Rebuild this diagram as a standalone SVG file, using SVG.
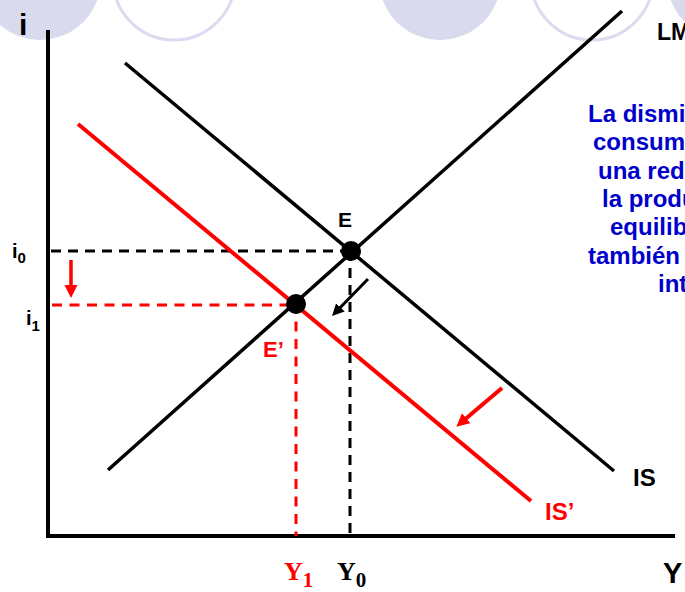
<svg xmlns="http://www.w3.org/2000/svg" width="685" height="592" viewBox="0 0 685 592">
<defs>
<style>
.bgf{fill:#dadaee;stroke:none}
.bgo{fill:none;stroke:#dcdcf0;stroke-width:3}
.ax{stroke:#000;stroke-width:4;fill:none}
.blk{stroke:#000;stroke-width:3.5;fill:none}
.red{stroke:#ff0000;stroke-width:4;fill:none}
.dk{stroke:#000;stroke-width:3;stroke-dasharray:10 7;fill:none}
.dr{stroke:#ff0000;stroke-width:3;stroke-dasharray:10 7.5;fill:none}
.lbl{font-family:"Liberation Sans",Arial,sans-serif;font-weight:bold}
.ser{font-family:"Liberation Serif","Times New Roman",serif;font-weight:bold}
.note{font-family:"Liberation Sans",Arial,sans-serif;font-weight:bold;font-size:24px;fill:#0000cc}
</style>
<marker id="ah-k" markerUnits="userSpaceOnUse" markerWidth="13" markerHeight="13" refX="3" refY="6" orient="auto"><path d="M0,0 L12,6 L0,12 z" fill="#000"/></marker>
<marker id="ah-r" markerUnits="userSpaceOnUse" markerWidth="14" markerHeight="14" refX="3" refY="6.5" orient="auto"><path d="M0,0 L13,6.5 L0,13 z" fill="#ff0000"/></marker>
</defs>
<g id="background">
<circle class="bgf" cx="40" cy="-21" r="61"/>
<circle class="bgo" cx="174" cy="-21" r="61"/>
<circle class="bgf" cx="440" cy="-21" r="61"/>
<circle class="bgo" cx="592" cy="-21" r="61"/>
<circle class="bgf" cx="728" cy="-21" r="61"/>
</g>
<g id="axes">
<path class="ax" d="M48,30 V536 H675"/>
<text class="lbl" x="19" y="35" font-size="30">i</text>
<text class="lbl" x="663" y="583" font-size="29">Y</text>
</g>
<g id="connectors">
<path class="dk" d="M51,251 H350"/>
<path class="dk" d="M350,251 V536"/>
<path class="dr" d="M52,305 H296"/>
<path class="dr" d="M296,304 V536"/>
<line x1="71" y1="260" x2="71" y2="288" stroke="#ff0000" stroke-width="3.5" marker-end="url(#ah-r)"/>
<line x1="368" y1="279" x2="338.3" y2="309.5" stroke="#000" stroke-width="3" marker-end="url(#ah-k)"/>
<line x1="502" y1="388" x2="463.9" y2="420.2" stroke="#ff0000" stroke-width="4" marker-end="url(#ah-r)"/>
</g>
<g id="LM">
<line class="blk" x1="108" y1="470" x2="622" y2="11" stroke-width="3"/>
<text class="lbl" x="657" y="40" font-size="23">LM</text>
</g>
<g id="IS">
<line class="blk" x1="125" y1="63" x2="614" y2="471"/>
<text class="lbl" x="633" y="486" font-size="24">IS</text>
</g>
<g id="IS-prime">
<line class="red" x1="78" y1="124" x2="531" y2="501"/>
<text class="lbl" x="545" y="520" font-size="24" fill="#ff0000">IS’</text>
</g>
<g id="E">
<circle cx="351" cy="251" r="10" fill="#000"/>
<text class="lbl" x="338" y="227" font-size="21">E</text>
</g>
<g id="E-prime">
<circle cx="296" cy="304" r="10" fill="#000"/>
<text class="lbl" x="263" y="357" font-size="22" fill="#ff0000">E’</text>
</g>
<g id="i0">
<text class="lbl" x="12" y="258" font-size="20">i<tspan font-size="15" dy="5">0</tspan></text>
</g>
<g id="i1">
<text class="lbl" x="26" y="325" font-size="20">i<tspan font-size="15" dy="6">1</tspan></text>
</g>
<g id="Y1">
<text class="ser" x="284" y="580" font-size="26" fill="#ff0000">Y<tspan font-size="21" dy="7">1</tspan></text>
</g>
<g id="Y0">
<text class="ser" x="337" y="580" font-size="26">Y<tspan font-size="21" dy="7">0</tspan></text>
</g>
<g id="note">
<text class="note" x="588" y="122">La dismi</text>
<text class="note" x="593" y="150">consum</text>
<text class="note" x="598" y="179">una red</text>
<text class="note" x="602" y="207">la produ</text>
<text class="note" x="610" y="235">equilib</text>
<text class="note" x="588" y="264">también</text>
<text class="note" x="658" y="292">int</text>
</g>
</svg>
